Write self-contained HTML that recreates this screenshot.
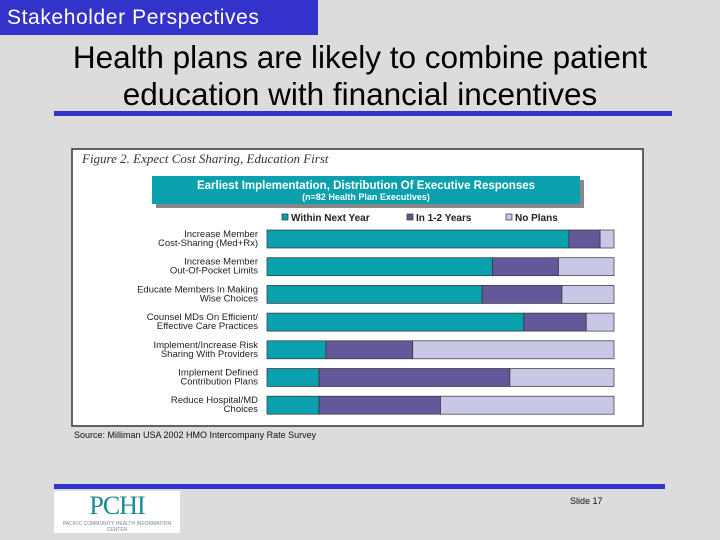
<!DOCTYPE html>
<html><head><meta charset="utf-8"><style>
body{margin:0;width:720px;height:540px;background:#dcdcdc;font-family:"Liberation Sans",sans-serif;position:relative;overflow:hidden}
.abs{position:absolute}
</style></head><body>
<div class="abs" style="left:0;top:0;width:318px;height:35px;background:#3333cc;color:#fff;font-size:21px;line-height:36px;padding-left:7px;box-sizing:border-box;letter-spacing:0.6px">Stakeholder Perspectives</div>
<div class="abs" style="left:0;top:39px;width:720px;text-align:center;font-size:31.5px;line-height:37px;color:#000">Health plans are likely to combine patient<br>education with financial incentives</div>
<div class="abs" style="left:54px;top:111px;width:618px;height:5px;background:#3333cc"></div>
<svg class="abs" style="left:0;top:0" width="720" height="540">
<rect x="72" y="149" width="571" height="277" fill="#fff" stroke="#333" stroke-width="1.5"/>
<text x="82" y="163" font-family="Liberation Serif,serif" font-style="italic" font-size="13" fill="#333">Figure 2. Expect Cost Sharing, Education First</text>
<rect x="156" y="180" width="428" height="28" fill="#888"/>
<rect x="152" y="176" width="428" height="28" fill="#0aa0ad"/>
<text x="366" y="189" text-anchor="middle" font-size="11.5" font-weight="bold" fill="#fff">Earliest Implementation, Distribution Of Executive Responses</text>
<text x="366" y="200" text-anchor="middle" font-size="9" font-weight="bold" fill="#fff">(n=82 Health Plan Executives)</text>
<g id="legend" font-size="10" font-weight="bold" fill="#222"></g>
<g id="bars"></g>
<g id="labels" font-size="9.5" fill="#222" text-anchor="end"></g>
</svg>
<div class="abs" style="left:74px;top:430px;font-size:9px;color:#111">Source: Milliman USA 2002 HMO Intercompany Rate Survey</div>
<div class="abs" style="left:54px;top:484px;width:611px;height:5px;background:#3333cc"></div>
<div class="abs" style="left:54px;top:491px;width:126px;height:42px;background:#fff;text-align:center">
<div style="font-family:'Liberation Serif',serif;color:#1a8a96;font-size:26px;line-height:30px;letter-spacing:-1px">PCHI</div>
<div style="font-size:5px;color:#789;line-height:6px">PACIFIC COMMUNITY HEALTH INFORMATION CENTER</div></div>
<div class="abs" style="left:570px;top:496px;font-size:9px;color:#111">Slide 17</div>
<script>
const categories=[["Increase Member","Cost-Sharing (Med+Rx)"],["Increase Member","Out-Of-Pocket Limits"],["Educate Members In Making","Wise Choices"],["Counsel MDs On Efficient/","Effective Care Practices"],["Implement/Increase Risk","Sharing With Providers"],["Implement Defined","Contribution Plans"],["Reduce Hospital/MD","Choices"]];
const withinNextYear=[87,65,62,74,17,15,15];
const in12Years=[9,19,23,18,25,55,35];
const noPlans=[4,16,15,8,58,30,50];
const seriesNames=["Within Next Year","In 1-2 Years","No Plans"];
const NS="http://www.w3.org/2000/svg";
const colors=["#0aa0ad","#64579a","#c8c8e6"];
const x0=267,xw=347,y0=230,step=27.7,bh=18;
const xs=v=>v/100*xw;
const bars=document.getElementById('bars'),labels=document.getElementById('labels'),legend=document.getElementById('legend');
const series=[withinNextYear,in12Years,noPlans];
categories.forEach((c,i)=>{
  const y=y0+i*step;let acc=0;
  series.forEach((s,k)=>{
    const r=document.createElementNS(NS,'rect');
    
    
    r.setAttribute('x',x0+xs(acc));r.setAttribute('y',y);r.setAttribute('width',xs(s[i]));r.setAttribute('height',bh);
    r.setAttribute('fill',colors[k]);r.setAttribute('stroke','#333');r.setAttribute('stroke-width','0.7');
    bars.appendChild(r);acc+=s[i];
  });
  c.forEach((t,j)=>{
    const tx=document.createElementNS(NS,'text');
    
    
    tx.setAttribute('x',258);tx.setAttribute('y',y+7+j*9);tx.textContent=t;labels.appendChild(tx);
  });
});
const lx=[282,407,506];
seriesNames.forEach((n,k)=>{
  const r=document.createElementNS(NS,'rect');
  
  
  r.setAttribute('x',lx[k]);r.setAttribute('y',214);r.setAttribute('width',6);r.setAttribute('height',6);r.setAttribute('fill',colors[k]);r.setAttribute('stroke','#333');r.setAttribute('stroke-width','0.7');
  legend.appendChild(r);
  const t=document.createElementNS(NS,'text');
  
  
  t.setAttribute('x',lx[k]+9);t.setAttribute('y',221);t.textContent=n;legend.appendChild(t);
});
</script>
</body></html>
